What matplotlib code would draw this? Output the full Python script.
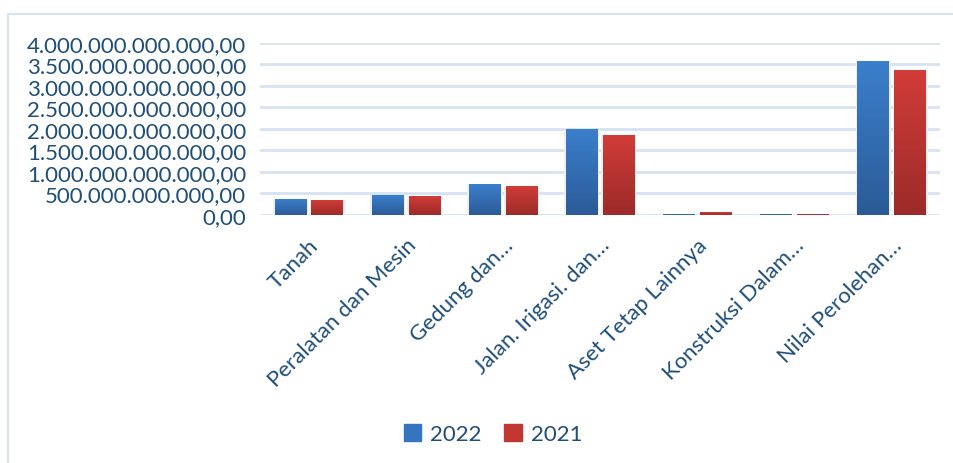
import matplotlib
matplotlib.use("Agg")
import matplotlib.pyplot as plt
import numpy as np
from matplotlib.patches import Rectangle

# data (rupiah)
categories = ["Tanah", "Peralatan dan Mesin", "Gedung dan\u2026", "Jalan. Irigasi. dan\u2026",
              "Aset Tetap Lainnya", "Konstruksi Dalam\u2026", "Nilai Perolehan\u2026"]
val_2022 = [0.35e12, 0.465e12, 0.72e12, 1.98e12, 0.012e12, 0.012e12, 3.58e12]
val_2021 = [0.345e12, 0.42e12, 0.655e12, 1.86e12, 0.05e12, 0.012e12, 3.35e12]
series_labels = ["2022", "2021"]

text_col = "#1F4E79"
plt.rcParams["font.family"] = ["Lato", "DejaVu Sans"]
fs = 16

fig = plt.figure(figsize=(9.54, 4.64), dpi=100)
ax = fig.add_axes([0.2725, 0.5345, 0.7125, 0.3707])

# outer chart frame
fig.patches.append(Rectangle((8 / 954, -0.1), 1.1, 1 - 15 / 464 + 0.1, transform=fig.transFigure,
                             fill=False, edgecolor="#D5E2F2", linewidth=1.5))

x = np.arange(len(categories))
w = 0.32
gap = 0.03
b1 = ax.bar(x - w / 2 - gap, val_2022, w, color="#3474C0", zorder=3)
b2 = ax.bar(x + w / 2 + gap, val_2021, w, color="#C13633", zorder=3)


def gradient(bars, top, bottom):
    grad = np.linspace(0, 1, 100).reshape(-1, 1)
    c0 = np.array(matplotlib.colors.to_rgb(top))
    c1 = np.array(matplotlib.colors.to_rgb(bottom))
    img = c1 + (c0 - c1) * grad[..., None]
    for b in bars:
        x0, y0 = b.get_x(), b.get_y()
        bw, bh = b.get_width(), b.get_height()
        # faint shadow
        ax.add_patch(Rectangle((x0 - 0.015, y0 - 0.015e12), bw + 0.04, bh + 0.015e12,
                               color="#EFEFEF", zorder=2, linewidth=0))
        ax.imshow(img, extent=[x0, x0 + bw, y0, y0 + bh], origin="lower",
                  aspect="auto", zorder=3.5)
        b.set_alpha(0)


gradient(b1, "#3B7FCD", "#2B5B97")
gradient(b2, "#D13C38", "#9C2B29")

ax.set_xlim(-0.5, len(categories) - 0.5)
ax.set_ylim(0, 4e12)
ticks = np.arange(0, 4.01e12, 0.5e12)
ax.set_yticks(ticks)
ax.set_yticklabels([f"{t:,.2f}".replace(",", "X").replace(".", ",").replace("X", ".") for t in ticks],
                   fontsize=fs, color=text_col)
ax.set_xticks(x)
ax.set_xticklabels(categories, rotation=45, ha="right", rotation_mode="anchor",
                   fontsize=fs, color=text_col)
ax.tick_params(axis="both", length=0, pad=10)
ax.tick_params(axis="x", pad=14)
ax.grid(axis="y", color="#D6E2F1", linewidth=2, zorder=0)
for s in ax.spines.values():
    s.set_visible(False)

handles = [Rectangle((0, 0), 1, 1, color="#3474C0"), Rectangle((0, 0), 1, 1, color="#C13633")]
fig.legend(handles, series_labels, loc="center", bbox_to_anchor=(493 / 954, 1 - 435 / 464), ncol=2,
           frameon=False, fontsize=fs, labelcolor=text_col, handlelength=0.8, handleheight=0.8,
           handletextpad=0.4, columnspacing=1.0)

fig.savefig("out.png", dpi=100)
